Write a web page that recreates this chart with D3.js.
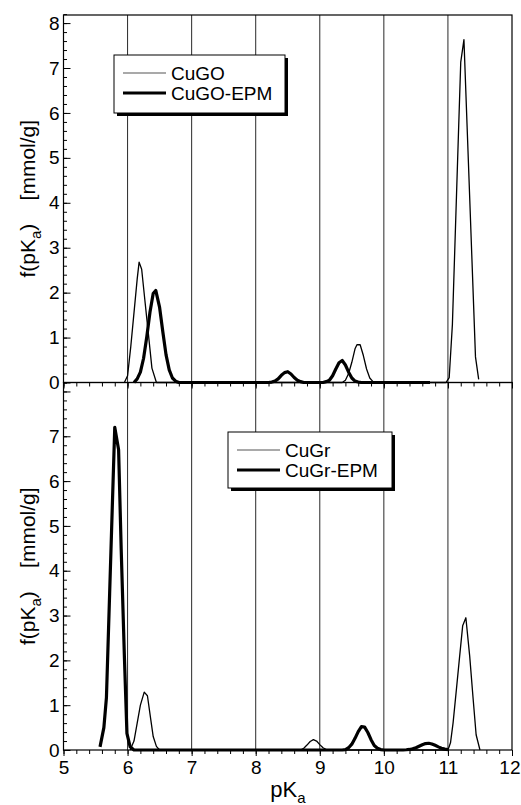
<!DOCTYPE html>
<html>
<head>
<meta charset="utf-8">
<script src="https://cdn.jsdelivr.net/npm/d3@7"></script>
<style>
  html, body { margin: 0; padding: 0; background: #fff; }
  svg { display: block; font-family: "Liberation Sans", Arial, sans-serif; }
</style>
</head>
<body>
<svg id="chart" width="521" height="805"></svg>
<script>
// ---------- data ----------
const pKaTicks = [5, 6, 7, 8, 9, 10, 11, 12];
const gridPKa = [6, 7, 8, 9, 10, 11];
const fTicksTop = [0, 1, 2, 3, 4, 5, 6, 7, 8];
const fTicksBottom = [0, 1, 2, 3, 4, 5, 6, 7];
const seriesNamesTop = ["CuGO", "CuGO-EPM"];
const seriesNamesBottom = ["CuGr", "CuGr-EPM"];

// [pKa, f(pKa)] pairs
const cuGO = [[5.95,0],[6.0,0.15],[6.05,0.8],[6.1,1.55],[6.15,2.3],[6.18,2.68],[6.22,2.52],[6.27,1.83],[6.32,1.15],[6.38,0.32],[6.45,0],
  [9.35,0],[9.4,0.05],[9.45,0.2],[9.5,0.45],[9.55,0.75],[9.58,0.84],[9.63,0.84],[9.68,0.6],[9.73,0.3],[9.78,0.1],[9.83,0.02],[9.87,0],
  [10.97,0],[11.02,0.11],[11.07,1.3],[11.12,3.55],[11.17,5.8],[11.2,7.13],[11.25,7.63],[11.3,5.67],[11.35,3.71],[11.4,1.75],[11.43,0.57],[11.48,0.07]];

const cuGOEPM = [[6.1,0],[6.15,0.08],[6.2,0.23],[6.25,0.54],[6.3,1.02],[6.35,1.57],[6.4,1.98],[6.44,2.05],[6.5,1.67],[6.55,1.13],[6.6,0.62],[6.65,0.28],[6.7,0.1],[6.75,0.03],[6.8,0],
  [8.2,0],[8.25,0.01],[8.3,0.03],[8.35,0.08],[8.4,0.16],[8.45,0.22],[8.5,0.24],[8.55,0.19],[8.6,0.11],[8.65,0.05],[8.7,0.02],[8.75,0],
  [9.05,0],[9.1,0.02],[9.15,0.05],[9.2,0.15],[9.25,0.3],[9.3,0.44],[9.35,0.49],[9.4,0.39],[9.45,0.23],[9.5,0.1],[9.55,0.03],[9.6,0.01],[9.65,0],[10.72,0]];

const cuGr = [[6.04,0],[6.1,0.2],[6.15,0.6],[6.2,1.0],[6.26,1.29],[6.31,1.21],[6.36,0.7],[6.4,0.3],[6.45,0.08],[6.5,0],
  [8.7,0],[8.75,0.04],[8.8,0.11],[8.85,0.19],[8.9,0.23],[8.95,0.2],[9.0,0.12],[9.05,0.05],[9.1,0.01],[9.15,0],
  [11.0,0],[11.04,0.16],[11.08,0.6],[11.13,1.32],[11.18,2.05],[11.23,2.77],[11.28,2.95],[11.34,2.09],[11.39,1.2],[11.44,0.34],[11.5,0]];

const cuGrEPM = [[5.57,0.07],[5.63,0.5],[5.67,1.17],[5.72,3.49],[5.76,5.35],[5.8,7.2],[5.86,6.7],[5.9,4.5],[5.95,2.1],[5.99,0.37],[6.04,0.07],[6.1,0],
  [9.35,0],[9.4,0.01],[9.45,0.05],[9.5,0.13],[9.55,0.26],[9.6,0.41],[9.65,0.52],[9.7,0.51],[9.75,0.39],[9.8,0.23],[9.85,0.1],[9.9,0.04],[9.95,0.01],[10.0,0],
  [10.3,0],[10.35,0.005],[10.4,0.012],[10.45,0.027],[10.5,0.051],[10.55,0.084],[10.6,0.118],[10.65,0.143],[10.7,0.15],[10.75,0.135],[10.8,0.105],[10.85,0.07],[10.9,0.041],[10.95,0.02],[11.0,0.01]];

// ---------- layout ----------
const svg = d3.select("#chart");
const L = 63.5, R = 512, T = 15, MID = 382.5, B = 750;
const font = '"Liberation Sans", Arial, sans-serif';

const x = d3.scaleLinear().domain([5, 12]).range([L, R]);
const yTop = d3.scaleLinear().domain([0, 8.18]).range([MID, T]);
const yBot = d3.scaleLinear().domain([0, 8.2]).range([B, MID]);

const minorX = d3.range(5, 12.001, 0.2).map(v => +v.toFixed(1));
const minorY = d3.range(0, 8.201, 0.2).map(v => +v.toFixed(1));

// grid lines (span both panels)
svg.append("g").selectAll("line").data(gridPKa).join("line")
  .attr("x1", d => x(d)).attr("x2", d => x(d))
  .attr("y1", T).attr("y2", B)
  .attr("stroke", "#111").attr("stroke-width", 0.9);

function panel(y, yTicks, showXLabels, series, names, legendPos) {
  const g = svg.append("g");
  // frame
  g.append("rect").attr("x", L).attr("y", y.range()[1]).attr("width", R - L)
    .attr("height", y.range()[0] - y.range()[1])
    .attr("fill", "none").attr("stroke", "#000").attr("stroke-width", 1.2);

  // x ticks
  g.append("g").attr("transform", `translate(0,${y(0)})`)
    .call(d3.axisBottom(x).tickValues(minorX).tickSize(4).tickFormat(""));
  const xMajor = g.append("g").attr("transform", `translate(0,${y(0)})`)
    .call(d3.axisBottom(x).tickValues(pKaTicks).tickSize(6).tickPadding(5)
      .tickFormat(showXLabels ? d3.format("d") : ""));
  // keep the last label inside the picture, as in the reference
  xMajor.selectAll(".tick text").filter(d => d === 12).attr("text-anchor", "end").attr("x", 8);
  // y ticks (inward)
  g.append("g").attr("transform", `translate(${L},0)`)
    .call(d3.axisLeft(y).tickValues(minorY).tickSize(-3.5).tickFormat(""));
  g.append("g").attr("transform", `translate(${L},0)`)
    .call(d3.axisLeft(y).tickValues(yTicks).tickSize(-7).tickPadding(4).tickFormat(d3.format("d")));
  if (y === yBot) {
    g.append("g").attr("transform", `translate(${L},0)`)
      .call(d3.axisLeft(y).tickValues([8]).tickSize(-7).tickFormat(""));
  }
  g.selectAll(".domain").remove();
  g.selectAll(".tick line").attr("stroke", "#000").attr("stroke-width", 1);
  g.selectAll(".tick text").attr("font-family", font).attr("font-size", 19).attr("fill", "#000");

  // curves
  const line = d3.line().x(d => x(d[0])).y(d => y(d[1]));
  g.append("path").datum(series[0]).attr("d", line)
    .attr("fill", "none").attr("stroke", "#000").attr("stroke-width", 1.3).attr("stroke-linejoin", "round");
  g.append("path").datum(series[1]).attr("d", line)
    .attr("fill", "none").attr("stroke", "#000").attr("stroke-width", 3.2).attr("stroke-linejoin", "round");

  // legend
  const lg = svg.append("g");
  const [lx, ly, lw, lh] = legendPos;
  lg.append("rect").attr("x", lx + 3).attr("y", ly + 3).attr("width", lw).attr("height", lh).attr("fill", "#000");
  lg.append("rect").attr("x", lx).attr("y", ly).attr("width", lw).attr("height", lh)
    .attr("fill", "#fff").attr("stroke", "#000").attr("stroke-width", 1);
  names.forEach((n, i) => {
    const yy = ly + 18 + i * 20;
    lg.append("line").attr("x1", lx + 9).attr("x2", lx + 52).attr("y1", yy).attr("y2", yy)
      .attr("stroke", i === 0 ? "#555" : "#000").attr("stroke-width", i === 0 ? 1.2 : 3);
    lg.append("text").attr("x", lx + 57).attr("y", yy + 7).text(n)
      .attr("font-family", font).attr("font-size", 19).attr("fill", "#000");
  });
}

panel(yTop, fTicksTop, false, [cuGO, cuGOEPM], seriesNamesTop, [114, 55, 171, 58]);
panel(yBot, fTicksBottom, true, [cuGr, cuGrEPM], seriesNamesBottom, [228, 432, 164, 56]);

// y-axis titles
function yTitle(cy) {
  const t = svg.append("text")
    .attr("transform", `translate(35,${cy}) rotate(-90)`)
    .attr("text-anchor", "middle")
    .attr("font-family", font).attr("font-size", 21).attr("fill", "#000")
    .style("white-space", "pre");
  t.append("tspan").text("f(pK");
  t.append("tspan").text("a").attr("font-size", 15).attr("dy", 6);
  t.append("tspan").text(")    [mmol/g]").attr("dy", -6);
}
yTitle((T + MID) / 2);
yTitle((MID + B) / 2);

// x-axis title
const xt = svg.append("text").attr("x", 288).attr("y", 797).attr("text-anchor", "middle")
  .attr("font-family", font).attr("font-size", 22).attr("fill", "#000");
xt.append("tspan").text("pK");
xt.append("tspan").text("a").attr("font-size", 15).attr("dy", 6);
</script>
</body>
</html>
